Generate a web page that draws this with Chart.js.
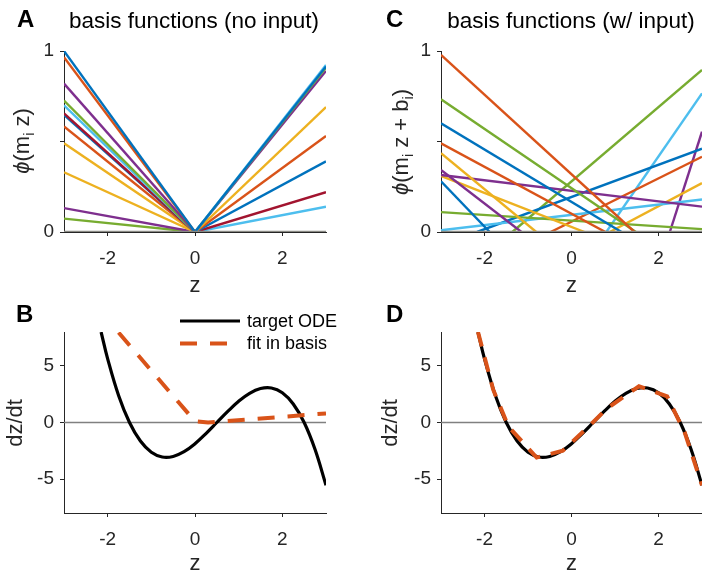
<!DOCTYPE html>
<html>
<head>
<meta charset="utf-8">
<script src="https://cdn.jsdelivr.net/npm/chart.js@4.4.1/dist/chart.umd.min.js"></script>
<style>
  body { margin: 0; background: #fff; }
  #fig { position: relative; width: 702px; height: 572px; overflow: hidden;
         font-family: "Liberation Sans", Arial, sans-serif; color: #262626; }
  .panel { position: absolute; }
  .letter { position: absolute; font-size: 24px; font-weight: bold; line-height: 1; color: #000; }
  .title { position: absolute; font-size: 22.5px; line-height: 1; color: #000; white-space: nowrap;
           transform: translateX(-50%); }
  .ylab { position: absolute; font-size: 22px; line-height: 1; white-space: nowrap;
          transform: translate(-50%, -50%) rotate(-90deg); }
  .ylab sub { font-size: 0.65em; vertical-align: -0.35em; line-height: 0; }
</style>
</head>
<body>
<div id="fig">
  <div class="panel" style="left:0;top:0"><canvas id="chartA" width="351" height="305"></canvas></div>
  <div class="panel" style="left:351px;top:0"><canvas id="chartC" width="351" height="305"></canvas></div>
  <div class="panel" style="left:0;top:290px"><canvas id="chartB" width="351" height="290"></canvas></div>
  <div class="panel" style="left:351px;top:290px"><canvas id="chartD" width="351" height="290"></canvas></div>

  <div class="letter" style="left:17px;top:7px">A</div>
  <div class="letter" style="left:386px;top:7px">C</div>
  <div class="letter" style="left:16px;top:302px">B</div>
  <div class="letter" style="left:386px;top:302px">D</div>

  <div class="title" style="left:194px;top:10px">basis functions (no input)</div>
  <div class="title" style="left:571px;top:10px">basis functions (w/ input)</div>

  <div class="ylab" style="left:22px;top:141px"><i>ϕ</i>(m<sub>i</sub> z)</div>
  <div class="ylab" style="left:401px;top:142px"><i>ϕ</i>(m<sub>i</sub> z + b<sub>i</sub>)</div>
  <div class="ylab" style="left:15px;top:423px">dz/dt</div>
  <div class="ylab" style="left:390px;top:423px">dz/dt</div>
</div>

<script>
// ticks
const zTicks = [-2, 0, 2];
const phiTicks = [0, 0.5, 1];
const rateTicks = [-5, 0, 5];

// panel A: phi(m_i z), every line is zero at z = 0
const zLeft = -3, zKink = 0, zRight = 3;
const phiAtLeft = [1.0, 0.965, 0.82, 0.726, 0.70, 0.655, 0.647, 0.583, 0.49, 0.33, 0.132, 0.074];
const phiAtRight = [0.915, 0.923, 0.908, 0.89, 0.69, 0.53, 0.39, 0.22, 0.14];

// panel C: phi(m_i z + b_i), each line from (startZ, startPhi) to (endZ, endPhi)
const cStartZ   = [-3, -3, -3, -3, -3, -3, -3, -3, -3, -3, -3, -2.17, -1.36, -0.48, 0.88, 0.80, 2.26];
const cStartPhi = [0.978, 0.733, 0.60, 0.49, 0.435, 0.343, 0.315, 0.31, 0.28, 0.11, 0.01, 0, 0, 0, 0, 0, 0];
const cEndZ     = [1.45, 1.48, 1.15, 0.78, -0.81, -1.15, 3, 0.3, -1.88, 3, 3, 3, 3, 3, 3, 3, 3];
const cEndPhi   = [0, 0, 0, 0, 0, 0, 0.14, 0, 0, 0.016, 0.18, 0.46, 0.895, 0.416, 0.27, 0.766, 0.554];

// panels B and D: target ODE and fits
const odeZ    = [-2.15, -2, -1.75, -1.5, -1.25, -1, -0.75, -0.5, -0.25, 0, 0.25, 0.5, 0.75, 1, 1.25, 1.5, 1.75, 2, 2.25, 2.5, 2.75, 3];
const odeRate = [8.0, 5.63, 2.39, 0, -1.64, -2.63, -3.05, -3.0, -2.58, -1.88, -0.98, 0, 0.98, 1.88, 2.58, 3.0, 3.05, 2.63, 1.64, 0, -2.39, -5.55];
const fitBZ    = [-1.75, 0, 0.3, 3];
const fitBRate = [7.95, 0.1, 0.0, 0.8];
const fitDZ    = [-2.15, -1.8, -1.45, -0.8, -0.2, 0.45, 0.8, 1.55, 2.2, 2.6, 3];
const fitDRate = [8.0, 2.9, -0.35, -3.1, -2.5, -0.15, 1.2, 3.2, 2.3, -0.85, -5.55];

const BLUE = '#0072BD', ORANGE = '#D95319', YELLOW = '#EDB120', PURPLE = '#7E2F8E',
      GREEN = '#77AC30', LIGHTBLUE = '#4DBEEE', DARKRED = '#A2142F';
const AX = '#262626';
const FONT = '"Liberation Sans", Arial, sans-serif';

const leftColors = [BLUE, ORANGE, PURPLE, GREEN, LIGHTBLUE, DARKRED, BLUE, ORANGE, YELLOW, YELLOW, PURPLE, GREEN];
const rightColors = [BLUE, LIGHTBLUE, GREEN, PURPLE, YELLOW, ORANGE, BLUE, DARKRED, LIGHTBLUE];
const cColors = [ORANGE, GREEN, BLUE, ORANGE, YELLOW, PURPLE, PURPLE, YELLOW, BLUE, GREEN, LIGHTBLUE,
                 BLUE, GREEN, ORANGE, YELLOW, LIGHTBLUE, PURPLE];

Chart.defaults.font.family = FONT;
Chart.defaults.color = AX;

function pts(xs, ys) {
  return xs.map((x, i) => ({ x: x, y: ys[i] }));
}

function segment(x0, y0, x1, y1, color) {
  return { data: [{ x: x0, y: y0 }, { x: x1, y: y1 }], borderColor: color, borderWidth: 2.4, pointRadius: 0, order: 1 };
}

function baseline(color, width) {
  return { data: [{ x: -3, y: 0 }, { x: 3, y: 0 }], borderColor: color, borderWidth: width, pointRadius: 0 };
}

function axis(min, max, ticks, size, fmt) {
  return {
    type: 'linear', min: min, max: max,
    border: { color: AX, width: 1 },
    grid: { drawOnChartArea: false, drawTicks: true, tickLength: 4, tickColor: AX },
    ticks: { font: { size: 19 }, padding: 6, color: AX, callback: fmt || (v => v) },
    afterBuildTicks: s => { s.ticks = ticks.map(v => ({ value: v })); },
    afterFit: s => { if (s.isHorizontal()) s.height = size; else s.width = size; },
  };
}

const legendB = {
  id: 'legendB',
  afterDatasetsDraw(chart) {
    const ctx = chart.ctx, area = chart.chartArea;
    chart.data.datasets.filter(d => d.label).forEach((d, i) => {
      const y = area.top - 11 + i * 22.5;
      ctx.save();
      ctx.strokeStyle = d.borderColor;
      ctx.lineWidth = d.borderWidth;
      ctx.setLineDash(d.borderDash || []);
      ctx.beginPath();
      ctx.moveTo(area.right - 146, y);
      ctx.lineTo(area.right - 86, y);
      ctx.stroke();
      ctx.setLineDash([]);
      ctx.fillStyle = '#000';
      ctx.font = '18px ' + FONT;
      ctx.textBaseline = 'middle';
      ctx.fillText(d.label, area.right - 79, y + 1);
      ctx.restore();
    });
  }
};

function makeChart(id, datasets, opts) {
  const x = axis(-3, 3, zTicks, opts.xh);
  x.ticks.padding = 11;
  x.title = { display: true, text: 'z', font: { size: 22 }, color: AX, padding: { top: 0, bottom: opts.zpad } };
  return new Chart(document.getElementById(id), {
    type: 'line',
    data: { datasets: datasets },
    options: {
      responsive: false,
      animation: false,
      events: [],
      layout: { padding: { left: 0, top: opts.top, right: opts.right, bottom: 0 } },
      scales: { x: x, y: axis(opts.ymin, opts.ymax, opts.yticks, opts.yw, opts.yfmt) },
      plugins: { legend: { display: false }, tooltip: { enabled: false } },
    },
    plugins: opts.plugins || [],
  });
}

const phiFmt = v => (v === 0.5 ? '' : v);

// A
const dsA = [];
phiAtLeft.forEach((v, i) => dsA.push(segment(zLeft, v, zKink, 0, leftColors[i])));
phiAtRight.forEach((v, i) => dsA.push(segment(zKink, 0, zRight, v, rightColors[i])));
dsA.push(Object.assign(baseline('#8a8a84', 2.5), { order: 0 }));
makeChart('chartA', dsA, { top: 51, right: 25, xh: 73, zpad: 6, yw: 64, ymin: 0, ymax: 1, yticks: phiTicks, yfmt: phiFmt });

// C
const dsC = cStartZ.map((z, i) => segment(z, cStartPhi[i], cEndZ[i], cEndPhi[i], cColors[i]));
dsC.push(Object.assign(baseline('#8a8a84', 2.5), { order: 0 }));
makeChart('chartC', dsC, { top: 51, right: 0, xh: 73, zpad: 6, yw: 90, ymin: 0, ymax: 1, yticks: phiTicks, yfmt: phiFmt });

// B
const dsB = [
  { label: 'target ODE', data: pts(odeZ, odeRate), borderColor: '#000', borderWidth: 3.2, pointRadius: 0,
    tension: 0.4, order: 1 },
  { label: 'fit in basis', data: pts(fitBZ, fitBRate), borderColor: ORANGE, borderWidth: 4, pointRadius: 0,
    borderDash: [17, 13], tension: 0, order: 0 },
  Object.assign(baseline('#808080', 1.5), { order: 2 }),
];
makeChart('chartB', dsB, { top: 42, right: 25, xh: 67, zpad: 3, yw: 64, ymin: -8, ymax: 8, yticks: rateTicks, plugins: [legendB] });

// D
const dsD = [
  { data: pts(odeZ, odeRate), borderColor: '#000', borderWidth: 3.2, pointRadius: 0,
    tension: 0.4, order: 1 },
  { data: pts(fitDZ, fitDRate), borderColor: ORANGE, borderWidth: 4, pointRadius: 0,
    borderDash: [15, 11], tension: 0, order: 0 },
  Object.assign(baseline('#808080', 1.5), { order: 2 }),
];
makeChart('chartD', dsD, { top: 42, right: 0, xh: 67, zpad: 3, yw: 90, ymin: -8, ymax: 8, yticks: rateTicks });
</script>
</body>
</html>
